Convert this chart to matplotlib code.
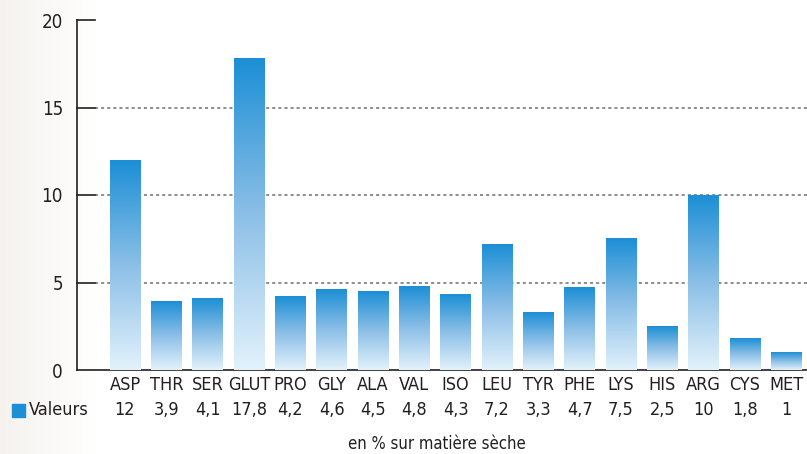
import numpy as np
import matplotlib
matplotlib.use("Agg")
import matplotlib.pyplot as plt
from matplotlib.colors import LinearSegmentedColormap
from matplotlib import font_manager as fm

categories = ["ASP", "THR", "SER", "GLUT", "PRO", "GLY", "ALA", "VAL", "ISO",
              "LEU", "TYR", "PHE", "LYS", "HIS", "ARG", "CYS", "MET"]
values = [12, 3.9, 4.1, 17.8, 4.2, 4.6, 4.5, 4.8, 4.3, 7.2, 3.3, 4.7, 7.5, 2.5, 10, 1.8, 1]
value_labels = ["12", "3,9", "4,1", "17,8", "4,2", "4,6", "4,5", "4,8", "4,3",
                "7,2", "3,3", "4,7", "7,5", "2,5", "10", "1,8", "1"]
yticks = [0, 5, 10, 15, 20]
series_name = "Valeurs"
unit_note = "en % sur matière sèche"

names = {f.name for f in fm.fontManager.ttflist}
cond = [f for f in fm.fontManager.ttflist if f.name == "DejaVu Sans" and "ondensed" in f.fname]
if "Liberation Sans Narrow" in names:
    FONT = ["Liberation Sans Narrow", "DejaVu Sans"]
    STRETCH = "normal"
else:
    FONT = ["DejaVu Sans"]
    STRETCH = "condensed"
plt.rcParams["font.family"] = FONT
plt.rcParams["font.stretch"] = STRETCH
TEXT = "#231f20"
FS = 13 if cond or "Liberation Sans Narrow" in names else 11.5

fig = plt.figure(figsize=(8.07, 4.54), dpi=100)

# faint background tint on the left
bg = fig.add_axes([0, 0, 1, 1], zorder=-10)
grad = np.linspace(0, 1, 400)
alpha = np.clip(1 - grad / 0.12, 0, 1) * 0.55
img = np.ones((1, 400, 4))
img[..., 0] = 0.93
img[..., 1] = 0.91
img[..., 2] = 0.88
img[..., 3] = alpha
bg.imshow(img, aspect="auto", extent=(0, 1, 0, 1))
bg.set_axis_off()

W, H = 807, 454
left, right = 77, 807
bottom, top = 370, 20
ax = fig.add_axes([left / W, 1 - bottom / H, (right - left) / W, (bottom - top) / H])
ax.patch.set_alpha(0)

x = np.arange(len(categories))

cmap = LinearSegmentedColormap.from_list("g", ["#e2f2fb", "#8cbfe7", "#1c8fd5"])
bw = 0.74
bars = ax.bar(x, values, width=bw, color="none", zorder=3)
grad_img = np.linspace(0, 1, 256).reshape(-1, 1)
for b in bars:
    x0 = b.get_x()
    h = b.get_height()
    ax.imshow(grad_img, cmap=cmap, aspect="auto", origin="lower",
              extent=(x0, x0 + b.get_width(), 0, h), zorder=3)
ax.set_xlim(-1.16, 16.5)
ax.set_ylim(0, 20)

# gridlines (dotted) and short solid ticks
for yv in yticks[1:-1]:
    ax.plot([-0.72, 16.5], [yv, yv], color="#6d6e71", lw=1.1, ls=(0, (2, 2)), zorder=1)
for yv in yticks[1:]:
    ax.plot([-1.16, -0.72], [yv, yv], color=TEXT, lw=1.2, zorder=2, clip_on=False)

for s in ["top", "right"]:
    ax.spines[s].set_visible(False)
for s in ["left", "bottom"]:
    ax.spines[s].set_color(TEXT)
    ax.spines[s].set_linewidth(1.2)

ax.set_yticks(yticks)
ax.set_yticklabels([str(v) for v in yticks], fontsize=FS + 0.5, color=TEXT)
ax.tick_params(axis="y", length=0, pad=10)
ax.set_xticks(x)
ax.set_xticklabels(categories, fontsize=FS, color=TEXT)
ax.tick_params(axis="x", length=0, pad=4)

# value row
for xi, lab in zip(x, value_labels):
    ax.text(xi, -2.3, lab, ha="center", va="center", fontsize=FS, color=TEXT,
            transform=ax.transData, clip_on=False)

fig.patches.append(plt.Rectangle((12 / W, 1 - 417 / H), 13 / W, 13 / H,
                                 transform=fig.transFigure, color="#1c8fd5"))
fig.text(29 / W, 1 - 410 / H, series_name, ha="left", va="center", fontsize=FS, color=TEXT)
fig.text(437 / W, 1 - 444 / H, unit_note, ha="center", va="center", fontsize=FS - 1, color=TEXT)

fig.savefig("out.png", dpi=100)
